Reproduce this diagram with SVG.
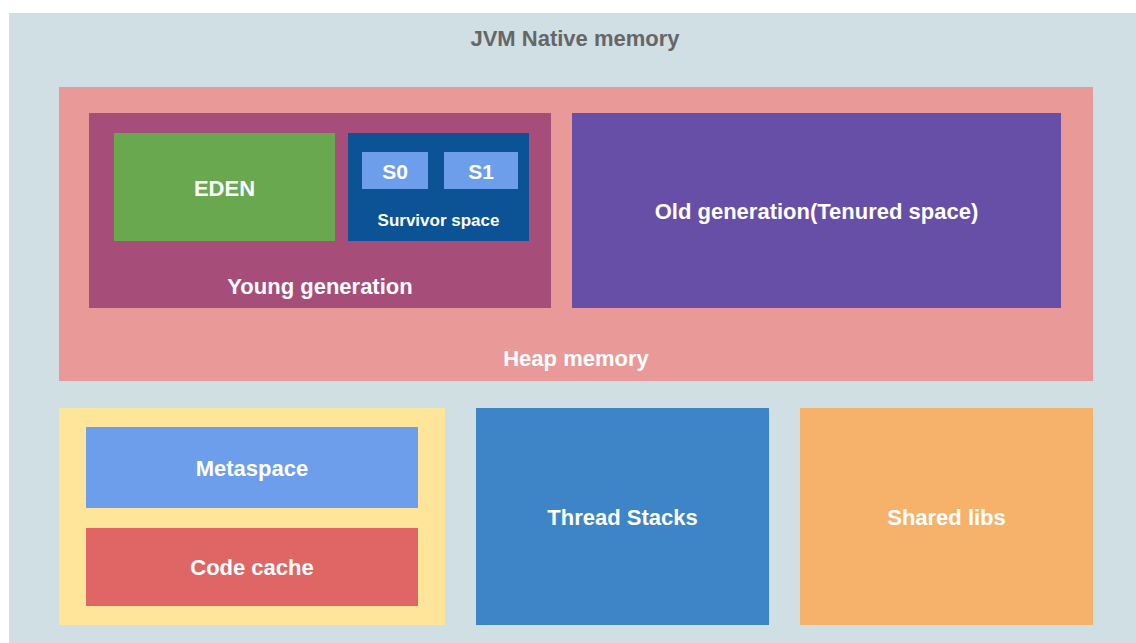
<svg xmlns="http://www.w3.org/2000/svg" width="1136" height="643" viewBox="0 0 1136 643">
<style>
text{font-family:"Liberation Sans",Arial,sans-serif;font-weight:bold;fill:#fff;text-anchor:middle;dominant-baseline:central}
.lg{font-size:22px}
.md{font-size:21px}
.sm{font-size:17px}
</style>
<rect width="1136" height="643" fill="#fff"/>
<g id="native">
<rect x="9" y="13" width="1127" height="630" fill="#d0dfe3"/>
<text x="575" y="38" class="lg" style="fill:#666">JVM Native memory</text>
</g>
<g id="heap">
<rect x="59" y="87" width="1034" height="294" fill="#ea9999"/>
<text x="576" y="358" class="lg">Heap memory</text>
</g>
<g id="young">
<rect x="89" y="113" width="462" height="195" fill="#a64d79"/>
<text x="320" y="286" class="lg">Young generation</text>
</g>
<g id="eden">
<rect x="114" y="133" width="221" height="108" fill="#6aa84f"/>
<text x="224.500" y="188" class="lg">EDEN</text>
</g>
<g id="survivor">
<rect x="348" y="133" width="181" height="108" fill="#0b5394"/>
<text x="438.500" y="220" class="sm">Survivor space</text>
</g>
<g id="s0">
<rect x="362" y="152" width="66" height="37" fill="#6d9eeb"/>
<text x="395" y="171" class="md">S0</text>
</g>
<g id="s1">
<rect x="444" y="152" width="74" height="37" fill="#6d9eeb"/>
<text x="481" y="171" class="md">S1</text>
</g>
<g id="old">
<rect x="572" y="113" width="489" height="195" fill="#674ea7"/>
<text x="816.500" y="211" class="lg">Old generation(Tenured space)</text>
</g>
<g id="nonheap">
<rect x="59" y="408" width="386" height="217" fill="#ffe599"/>
</g>
<g id="metaspace">
<rect x="86" y="427" width="332" height="81" fill="#6d9eeb"/>
<text x="252" y="468" class="lg">Metaspace</text>
</g>
<g id="codecache">
<rect x="86" y="528" width="332" height="78" fill="#e06666"/>
<text x="252" y="567" class="lg">Code cache</text>
</g>
<g id="threads">
<rect x="476" y="408" width="293" height="217" fill="#3d85c6"/>
<text x="622.500" y="517" class="lg">Thread Stacks</text>
</g>
<g id="sharedlibs">
<rect x="800" y="408" width="293" height="217" fill="#f6b26b"/>
<text x="946.500" y="517" class="lg">Shared libs</text>
</g>
<g id="connectors"></g>
</svg>
